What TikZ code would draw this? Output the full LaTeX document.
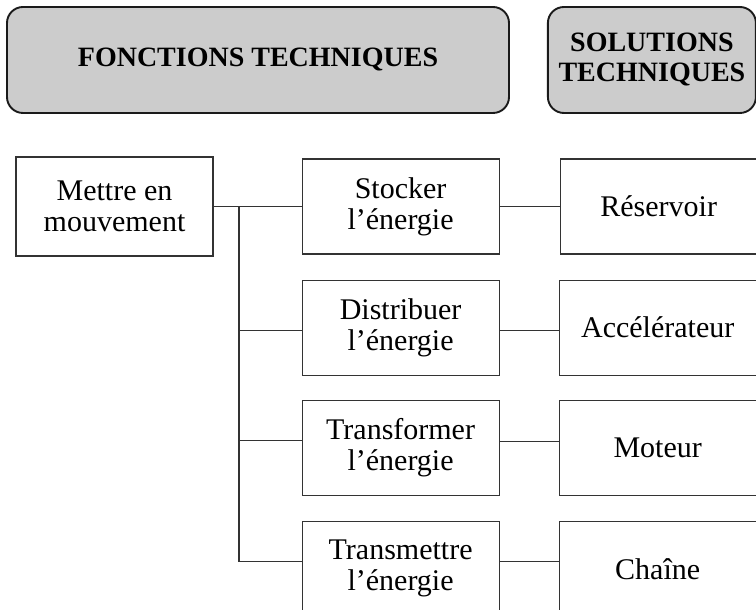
\documentclass[tikz,border=0pt]{standalone}
\usepackage{fontspec}
\setmainfont{Liberation Serif}
\usetikzlibrary{positioning}
\definecolor{headGray}{HTML}{CCCCCC}
\definecolor{frameInk}{HTML}{1A1A1A}
\definecolor{lineInk}{HTML}{333333}

\begin{document}
\begin{tikzpicture}[
  x=1pt, y=1pt,
  head/.style={draw=frameInk, fill=headGray, rounded corners=16pt, line width=1.9pt,
               align=center, minimum height=106pt, inner sep=0pt,
               font=\fontsize{28}{30}\selectfont\bfseries},
  func/.style={draw=lineInk, align=center, minimum width=197pt, minimum height=95pt,
               inner sep=0pt, line width=1.1pt, font=\fontsize{30}{31}\selectfont},
  link/.style={draw=lineInk, line width=1.1pt},
]
\useasboundingbox (0,0) rectangle (756,610);
% en-tetes
\node[head, minimum width=502pt] (fonct) at (258,550) {FONCTIONS TECHNIQUES};
\node[head, minimum width=208pt, right=37pt of fonct] (solut) {SOLUTIONS\\TECHNIQUES};
% fonction principale
\node[func, minimum height=99pt] (mettre) at (114.5,403.5) {Mettre en\\mouvement};
% fonctions techniques
\node[func, right=88pt of mettre] (stocker) {Stocker\\l'énergie};
\node[func, below=25pt of stocker] (distrib) {Distribuer\\l'énergie};
\node[func, below=24pt of distrib] (transf) {Transformer\\l'énergie};
\node[func, below=25pt of transf] (transm) {Transmettre\\l'énergie};
% solutions techniques
\node[func, right=60pt of stocker] (reserv) {Réservoir};
\node[func, right=59pt of distrib] (accel) {Accélérateur};
\node[func, right=59pt of transf] (moteur) {Moteur};
\node[func, right=59pt of transm] (chaine) {Chaîne};
% liaisons
\coordinate (jn) at (239,403.5);
\draw[link] (mettre) -- (stocker);
\draw[link] (jn) |- ([yshift=-3pt]distrib.west);
\draw[link] (jn) |- ([yshift=7pt]transf.west);
\draw[link] (jn) |- ([yshift=7pt]transm.west);
\draw[link] (stocker) -- (reserv);
\draw[link] ([yshift=-3pt]distrib.east) -- ([yshift=-3pt]accel.west);
\draw[link] ([yshift=6pt]transf.east) -- ([yshift=6pt]moteur.west);
\draw[link] ([yshift=7pt]transm.east) -- ([yshift=7pt]chaine.west);
\end{tikzpicture}
\end{document}
